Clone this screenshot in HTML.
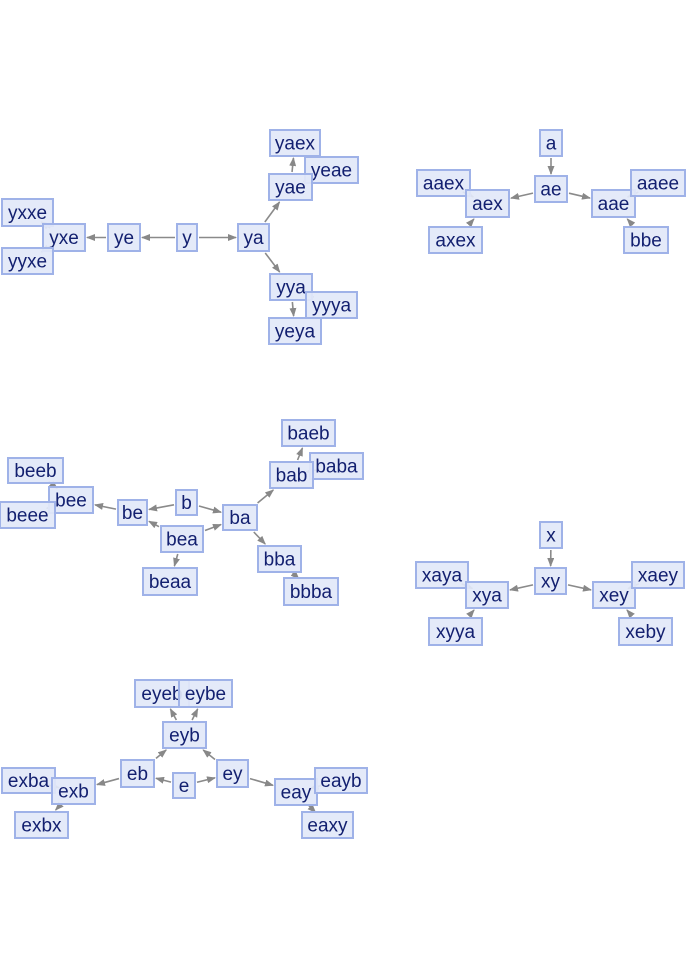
<!DOCTYPE html>
<html><head><meta charset="utf-8"><style>
html,body{margin:0;padding:0;background:#fff;}
svg{display:block}
.n rect{fill:#e2e8f8;fill-opacity:0.92;stroke:#9fb2e8;stroke-width:2}
.n text{font-family:"Liberation Sans",sans-serif;font-size:19px;fill:#132070;text-anchor:middle;dominant-baseline:central}
.e{stroke:#8a8a8a;stroke-width:1.6;fill:none;marker-end:url(#ah)}
</style></head><body>
<svg id="s" width="688" height="970" viewBox="0 0 688 970" xmlns="http://www.w3.org/2000/svg">
<defs><marker id="ah" markerWidth="9" markerHeight="7" refX="8" refY="3.5" orient="auto" markerUnits="userSpaceOnUse"><path d="M0,0L9,3.5L0,7z" fill="#888"/></marker></defs>
<g id="edges"></g><g id="nodes"></g>
</svg>
<script>
var N={
yaex:[270,130,320,156],yeae:[305,157,358,183],yae:[269,174,312,200],yxxe:[2,199,53,226],yxe:[43,224,85,251],yyxe:[2,248,53,274],ye:[108,224,140,251],y:[177,224,197,251],ya:[238,224,269,251],yya:[270,274,312,300],yyya:[306,292,357,318],yeya:[269,318,321,344],
a:[540,130,562,156],ae:[535,176,567,202],aaex:[417,170,470,196],aex:[466,190,509,217],axex:[429,227,482,253],aae:[592,190,635,217],aaee:[631,170,685,196],bbe:[624,227,668,253],
baeb:[282,420,335,446],baba:[310,453,363,479],bab:[270,462,313,488],beeb:[8,458,63,483],bee:[49,487,93,513],beee:[0,502,55,528],be:[118,500,147,525],b:[176,490,197,515],ba:[223,505,257,530],bea:[161,526,203,552],beaa:[143,568,197,595],bba:[258,546,301,572],bbba:[284,578,338,605],
x:[540,522,562,548],xy:[535,568,566,594],xaya:[416,562,468,588],xya:[466,582,508,608],xyya:[429,618,482,645],xey:[593,582,635,608],xaey:[632,562,684,588],xeby:[619,618,672,645],
eyeb:[135,680,189,707],eybe:[179,680,232,707],eyb:[163,722,206,748],eb:[121,760,154,787],e:[173,773,195,798],ey:[217,760,248,787],exba:[2,768,55,793],exb:[52,778,95,804],exbx:[15,812,68,838],eay:[275,779,317,805],eayb:[315,768,367,793],eaxy:[302,812,353,838]
};
var E=[["y","ye"],["ye","yxe"],["y","ya"],["ya","yae"],["ya","yya"],["yae","yaex"],["yeae","yae"],["yxe","yxxe"],["yxe","yyxe"],["yya","yeya"],["yyya","yya"],
["a","ae"],["ae","aex"],["ae","aae"],["aaex","aex"],["axex","aex"],["aaee","aae"],["bbe","aae"],
["b","be"],["b","ba"],["bea","be"],["bea","ba"],["bea","beaa"],["be","bee"],["beeb","bee"],["bee","beee"],["ba","bab"],["ba","bba"],["bab","baeb"],["baba","bab"],["bba","bbba"],
["x","xy"],["xy","xya"],["xy","xey"],["xaya","xya"],["xyya","xya"],["xaey","xey"],["xeby","xey"],
["e","eb"],["e","ey"],["eb","eyb"],["ey","eyb"],["eb","exb"],["ey","eay"],["eyb","eyeb"],["eyb","eybe"],["exba","exb"],["exb","exbx"],["eayb","eay"],["eay","eaxy"]];
var ns="http://www.w3.org/2000/svg";
function c(b){return[(b[0]+b[2])/2,(b[1]+b[3])/2];}
function clip(b,dx,dy,pad){var hw=(b[2]-b[0])/2+pad,hh=(b[3]-b[1])/2+pad;return Math.min(dx?hw/Math.abs(dx):1e9,dy?hh/Math.abs(dy):1e9);}
var ge=document.getElementById("edges"),gn=document.getElementById("nodes");
E.forEach(function(p){var A=N[p[0]],B=N[p[1]],a=c(A),b=c(B),dx=b[0]-a[0],dy=b[1]-a[1];
var t0=clip(A,dx,dy,2),t1=1-clip(B,dx,dy,2);
if(t1-t0<0.1){var m=(t0+t1)/2;t0=m-0.12;t1=m+0.12;}
var l=document.createElementNS(ns,"line");l.setAttribute("class","e");
l.setAttribute("x1",a[0]+dx*t0);l.setAttribute("y1",a[1]+dy*t0);l.setAttribute("x2",a[0]+dx*t1);l.setAttribute("y2",a[1]+dy*t1);ge.appendChild(l);});
for(var k in N){var b=N[k],g=document.createElementNS(ns,"g");g.setAttribute("class","n");
var r=document.createElementNS(ns,"rect");r.setAttribute("x",b[0]);r.setAttribute("y",b[1]);r.setAttribute("width",b[2]-b[0]);r.setAttribute("height",b[3]-b[1]);
var t=document.createElementNS(ns,"text");t.setAttribute("x",(b[0]+b[2])/2);t.setAttribute("y",(b[1]+b[3])/2+1);t.textContent=k;
g.appendChild(r);g.appendChild(t);gn.appendChild(g);}
</script>
</body></html>
